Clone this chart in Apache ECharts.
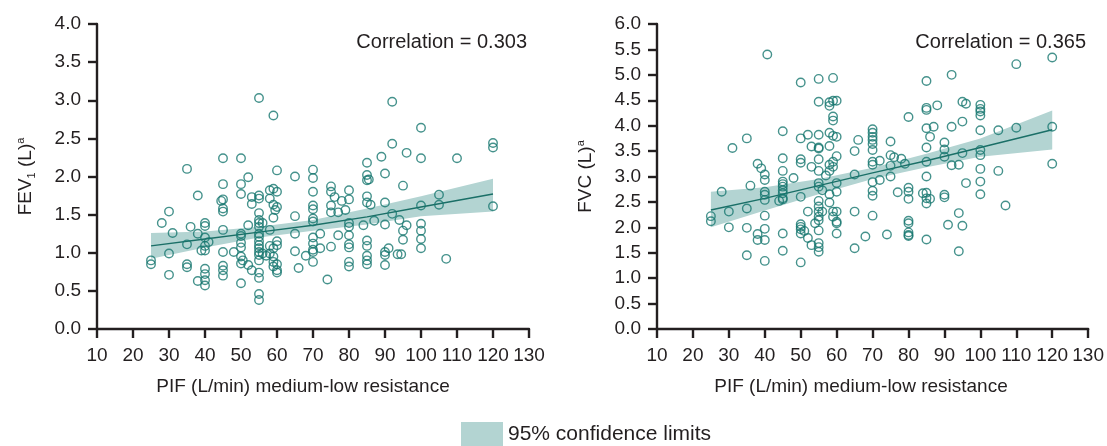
<!DOCTYPE html>
<html>
<head>
<meta charset="utf-8">
<script src="https://cdn.jsdelivr.net/npm/echarts@6/dist/echarts.min.js"></script>
<style>
html,body{margin:0;padding:0;background:#fff;}
#c{width:1107px;height:446px;}
</style>
</head>
<body>
<div id="c"></div>
<script>
// ---------- data ----------
const xTicks = [10, 20, 30, 40, 50, 60, 70, 80, 90, 100, 110, 120, 130];

// FEV1 panel: PIF (L/min) and FEV1 (L)
const fevPoints = [
 [55,3.03],[59,2.80],[45,2.24],[50,2.24],[35,2.10],[60,2.08],[52,1.99],[65,2.00],[45,1.90],[50,1.90],
 [50,1.77],[38,1.75],[53,1.73],[55,1.75],[55,1.71],[58,1.82],[59,1.84],[60,1.80],[58,1.71],[44.5,1.68],
 [45,1.70],[45,1.58],[45,1.54],[53,1.64],[59,1.63],[60,1.60],[59.5,1.56],[59,1.46],[65,1.48],[30,1.54],
 [28,1.39],[36,1.34],[40,1.39],[40,1.35],[52,1.36],[55,1.52],[55,1.43],[55,1.39],[55,1.34],[56,1.39],
 [45,1.30],[31,1.26],[38,1.25],[40,1.20],[50,1.25],[50,1.22],[55,1.25],[55,1.21],[58,1.30],[65,1.25],
 [41,1.14],[40,1.09],[35,1.11],[39,1.03],[40,1.03],[50,1.13],[50,1.07],[55,1.15],[55,1.10],[55,1.06],
 [55,1.01],[60,1.15],[60,1.10],[59,1.06],[58,1.09],[30,0.99],[45,1.01],[48,1.01],[65,1.02],[68,0.96],
 [25,0.90],[25,0.85],[35,0.85],[35,0.81],[50,0.95],[50.5,0.90],[50,0.86],[52,0.84],[55,0.97],[55,0.90],
 [56,0.99],[57,0.96],[58,0.99],[59,0.95],[59,0.88],[60,0.85],[59,0.82],[60,0.77],[60,0.74],[45,0.83],
 [45,0.77],[45,0.70],[40,0.79],[40,0.72],[40,0.64],[40,0.57],[30,0.71],[38,0.63],[53,0.77],[55,0.74],
 [55,0.67],[50,0.60],[66,0.80],[55,0.46],[55,0.38],
 [92,2.98],[100,2.64],[92,2.43],[120,2.44],[120,2.38],[96,2.31],[89,2.26],[100,2.24],[110,2.24],[85,2.18],
 [70,2.09],[70,1.98],[85,2.02],[85.5,1.96],[85,1.95],[90,2.04],[70,1.80],[75,1.87],[75,1.80],[80,1.82],
 [95,1.88],[76,1.73],[78,1.68],[80,1.70],[85,1.74],[85,1.66],[86,1.63],[90,1.66],[105,1.76],[105,1.63],
 [100,1.62],[120,1.61],[70,1.62],[70,1.57],[75,1.62],[75,1.53],[77,1.53],[79,1.56],[92,1.51],[70,1.45],
 [70,1.41],[80,1.39],[80,1.34],[84,1.36],[87,1.42],[90,1.37],[94,1.43],[96,1.36],[100,1.38],[100,1.29],
 [100,1.18],[100,1.06],[95,1.29],[95,1.17],[72,1.25],[77,1.23],[80,1.23],[80,1.11],[80,1.07],[80,0.88],
 [80,0.82],[70,1.20],[70,1.12],[70,1.04],[70,1.01],[70,0.88],[72,1.06],[75,1.08],[85,1.16],[85,1.09],
 [85,0.96],[85,0.90],[85,0.85],[91,1.06],[90,1.01],[90,0.97],[90,0.84],[93.5,0.98],[94.5,0.98],[107,0.92],
 [74,0.65]
];
const fitX = [25, 40, 55, 70, 85, 100, 120];
const fevFit   = [1.09, 1.18, 1.27, 1.36, 1.47, 1.60, 1.77];
const fevUpper = [1.26, 1.28, 1.34, 1.43, 1.58, 1.74, 1.97];
const fevLower = [0.92, 1.07, 1.20, 1.29, 1.37, 1.48, 1.54];
const fevCorrelation = 'Correlation = 0.303';

// FVC panel: PIF (L/min) and FVC (L)
const fvcPoints = [
 [40.7,5.40],[50,4.85],[55,4.92],[59,4.94],[55,4.47],[58,4.46],[59,4.49],[60,4.49],[58,4.39],[59,4.18],
 [59,4.10],[45,3.89],[35,3.75],[50,3.75],[52,3.82],[55,3.82],[58,3.86],[59,3.80],[60,3.78],[66,3.72],
 [31,3.56],[53,3.59],[55,3.57],[55,3.55],[58,3.60],[65,3.50],[45,3.36],[50,3.34],[50,3.27],[55,3.34],
 [60,3.40],[59,3.29],[58,3.23],[59,3.19],[38,3.25],[39,3.16],[40,3.04],[40,2.93],[45,3.11],[53,3.19],
 [55,3.11],[58,3.11],[57,3.02],[48,2.97],[65,3.04],[45,2.90],[45,2.85],[45,2.80],[45,2.73],[45,2.67],
 [45,2.57],[40,2.70],[40,2.64],[40,2.54],[36,2.82],[28,2.70],[55,2.87],[55,2.80],[56,2.73],[60,2.87],
 [60,2.70],[58,2.65],[50,2.60],[44,2.52],[45,2.55],[58,2.49],[55,2.52],[55,2.41],[55,2.31],[56,2.31],
 [52,2.31],[59,2.31],[60,2.31],[65,2.31],[35,2.37],[30,2.31],[25,2.22],[25,2.12],[40,2.23],[55,2.21],
 [55,2.14],[54,2.08],[59,2.21],[60,2.11],[60,2.08],[50,2.06],[50,2.01],[50,1.96],[51,1.93],[50,1.88],
 [55,1.94],[60,1.88],[30,2.00],[35,1.99],[40,1.97],[45,1.88],[38,1.87],[38,1.75],[40,1.75],[52,1.79],
 [53,1.65],[55,1.69],[55,1.61],[55,1.52],[68,1.82],[45,1.54],[65,1.59],[35,1.45],[40,1.34],[50,1.31],
 [120,5.34],[110,5.21],[92,5.00],[85,4.88],[95,4.47],[96,4.43],[100,4.41],[100,4.33],[100,4.28],[100,4.20],
 [88,4.40],[85,4.35],[85,4.31],[80,4.17],[95,4.08],[85,3.95],[87,3.98],[92,3.98],[86,3.78],[100,3.91],
 [105,3.91],[110,3.96],[120,3.98],[70,3.93],[70,3.86],[70,3.78],[70,3.72],[70,3.64],[70,3.52],[75,3.69],
 [90,3.67],[90,3.53],[85,3.57],[75,3.42],[76,3.38],[78,3.35],[72,3.31],[70,3.29],[70,3.23],[75,3.21],
 [79,3.25],[85,3.29],[90,3.39],[95,3.46],[100,3.52],[100,3.42],[92,3.22],[94,3.23],[100,3.15],[105,3.11],
 [120,3.25],[75,3.00],[85,3.00],[70,2.89],[72,2.93],[96,2.87],[100,2.90],[70,2.72],[70,2.62],[80,2.78],
 [80,2.70],[80,2.56],[77,2.69],[84,2.67],[85,2.68],[85,2.57],[86,2.56],[85,2.47],[90,2.64],[90,2.59],
 [100,2.65],[107,2.43],[70,2.23],[94,2.28],[80,2.13],[80,2.08],[80,1.90],[80,1.85],[91,2.05],[95,2.03],
 [74,1.86],[80,1.83],[85,1.76],[94,1.53]
];
const fvcFit   = [2.34, 2.57, 2.82, 3.07, 3.31, 3.57, 3.92];
const fvcUpper = [2.70, 2.79, 2.95, 3.17, 3.45, 3.75, 4.30];
const fvcLower = [2.00, 2.33, 2.65, 2.95, 3.18, 3.39, 3.53];
const fvcCorrelation = 'Correlation = 0.365';

const xTitle = 'PIF (L/min) medium-low resistance';
const ciName = '95% confidence limits';

// ---------- styles ----------
const FONT = '"Liberation Sans", Arial, Helvetica, sans-serif';
const INK = '#231f20';
const TEAL = '#17776f';
const LINE = '#1a6f67';
const BAND = '#b3d4d2';

function xAxisDef(gi){
  return {
    type:'value', gridIndex:gi, min:10, max:130, interval:10,
    axisLine:{show:true, onZero:false, lineStyle:{color:INK, width:2.4}},
    axisTick:{show:true, inside:false, length:9, lineStyle:{color:INK, width:2.4}},
    axisLabel:{color:INK, fontSize:19, fontFamily:FONT, margin:17,
      formatter:v => xTicks.includes(v) ? String(v) : ''},
    splitLine:{show:false}
  };
}
function yAxisDef(gi, max, nameRich){
  return {
    type:'value', gridIndex:gi, min:0, max:max, interval:0.5,
    axisLine:{show:true, onZero:false, lineStyle:{color:INK, width:2.4}},
    axisTick:{show:true, inside:false, length:9, lineStyle:{color:INK, width:2.4}},
    axisLabel:{color:INK, fontSize:19, fontFamily:FONT, margin:16, formatter:v => v.toFixed(1)},
    splitLine:{show:false},
    name:nameRich, nameLocation:'middle', nameRotate:90, nameGap:60,
    nameTextStyle:{
      color:INK, fontFamily:FONT, fontSize:19,
      rich:{
        t:{fontSize:19, color:INK, fontFamily:FONT, lineHeight:22},
        s:{fontSize:11, color:INK, fontFamily:FONT, verticalAlign:'bottom', lineHeight:22},
        p:{fontSize:11, color:INK, fontFamily:FONT, verticalAlign:'top', lineHeight:22}
      }
    }
  };
}
function panelSeries(gi, pts, fit, up, lo){
  return [
    {type:'custom', name:ciName, xAxisIndex:gi, yAxisIndex:gi, silent:true, z:1,
     itemStyle:{color:BAND},
     data:[0],
     renderItem:function(params, api){
       const pts2 = [];
       for (let i=0;i<fitX.length;i++) pts2.push(api.coord([fitX[i], up[i]]));
       for (let i=fitX.length-1;i>=0;i--) pts2.push(api.coord([fitX[i], lo[i]]));
       return {type:'polygon', shape:{points:pts2}, style:{fill:BAND, stroke:null}};
     }},
    {type:'line', xAxisIndex:gi, yAxisIndex:gi, silent:true, symbol:'none',
     data: fitX.map((x,i)=>[x, fit[i]]), lineStyle:{color:LINE, width:1.4}, z:2},
    {type:'scatter', xAxisIndex:gi, yAxisIndex:gi, data:pts, symbol:'circle', symbolSize:8.5,
     itemStyle:{color:'rgba(0,0,0,0)', borderColor:TEAL, borderWidth:1.4}, z:3}
  ];
}

const chart = echarts.init(document.getElementById('c'), null, {renderer:'canvas'});
chart.setOption({
  animation:false,
  backgroundColor:'#fff',
  grid:[
    {left:97, top:24, width:432, height:305, containLabel:false},
    {left:657, top:24, width:433, height:305, containLabel:false}
  ],
  xAxis:[xAxisDef(0), xAxisDef(1)],
  yAxis:[
    yAxisDef(0, 4, '{t|FEV}{s|1}{t| (L)}{p|a}'),
    yAxisDef(1, 6, '{t|FVC (L)}{p|a}')
  ],
  legend:{
    show:true, left:461, top:422, padding:0, itemWidth:42, itemHeight:24, icon:'rect',
    data:[{name:ciName, icon:'rect', itemStyle:{color:BAND, opacity:1}}],
    textStyle:{color:INK, fontSize:21, fontFamily:FONT}
  },
  graphic:[
    {type:'text', z:100, x:527, y:42, style:{text:fevCorrelation, fill:INK, font:'20px '+FONT, textAlign:'right', textVerticalAlign:'middle'}},
    {type:'text', z:100, x:1086, y:42, style:{text:fvcCorrelation, fill:INK, font:'20px '+FONT, textAlign:'right', textVerticalAlign:'middle'}},
    {type:'text', z:100, x:303, y:387, style:{text:xTitle, fill:INK, font:'19px '+FONT, textAlign:'center', textVerticalAlign:'middle'}},
    {type:'text', z:100, x:861, y:387, style:{text:xTitle, fill:INK, font:'19px '+FONT, textAlign:'center', textVerticalAlign:'middle'}}
  ],
  series:[].concat(
    panelSeries(0, fevPoints, fevFit, fevUpper, fevLower),
    panelSeries(1, fvcPoints, fvcFit, fvcUpper, fvcLower)
  )
});
</script>
</body>
</html>
